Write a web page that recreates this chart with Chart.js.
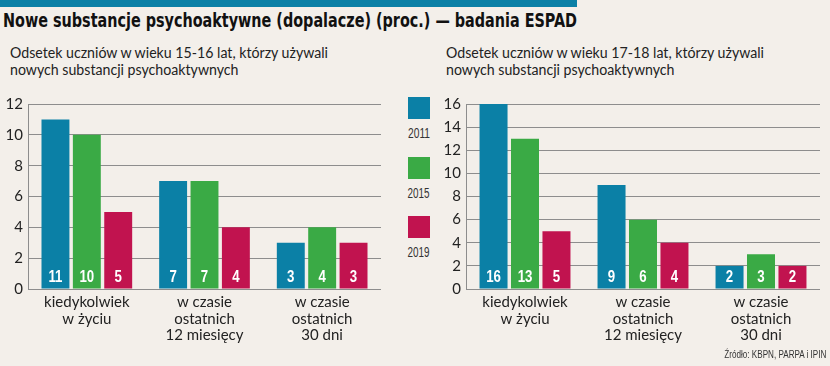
<!DOCTYPE html>
<html lang="pl">
<head>
<meta charset="utf-8">
<script src="https://cdn.jsdelivr.net/npm/chart.js@4"></script>
<style>
  body { margin: 0; width: 830px; height: 366px; background: #f3efea; position: relative; overflow: hidden; font-family: Lato, sans-serif; color: #222; }
  .stripe { position: absolute; left: 0; top: 0; width: 577px; height: 7px; background: #0b80a6; }
  .title { position: absolute; left: 3px; top: 10px; font: bold 20px/20px "DejaVu Sans Condensed", sans-serif; color: #111; white-space: nowrap; display: inline-block; transform-origin: left top; }
  .sub { position: absolute; top: 44px; font-size: 15.5px; line-height: 17px; color: #222; display: inline-block; white-space: nowrap; transform-origin: left top; }
  canvas { position: absolute; }
  .sq { position: absolute; left: 408px; width: 22px; height: 22px; }
  .yr { position: absolute; left: 400px; width: 38px; text-align: center; font: 14px/15px "Liberation Sans", sans-serif; color: #333; }
  .yr span { display: inline-block; transform-origin: center top; }
  .src { position: absolute; right: 4px; top: 349px; font: 11px/11px "Liberation Sans", sans-serif; color: #333; white-space: nowrap; display: inline-block; transform-origin: right top; }
</style>
</head>
<body>
<div class="stripe"></div>
<div class="title" data-w="574">Nowe substancje psychoaktywne (dopalacze) (proc.) — badania ESPAD</div>
<div class="sub" style="left:10px" data-w="318">Odsetek uczniów w wieku 15-16 lat, którzy używali<br>nowych substancji psychoaktywnych</div>
<div class="sub" style="left:446px" data-w="318">Odsetek uczniów w wieku 17-18 lat, którzy używali<br>nowych substancji psychoaktywnych</div>
<canvas id="chartYoung" width="395" height="272" style="left:0;top:90px"></canvas>
<canvas id="chartOld" width="392" height="272" style="left:438px;top:90px"></canvas>
<div id="legend"></div>
<div class="src" data-w="102">Źródło: KBPN, PARPA i IPIN</div>
<script>
// dane
const categories = [
  ["kiedykolwiek", "w życiu"],
  ["w czasie", "ostatnich", "12 miesięcy"],
  ["w czasie", "ostatnich", "30 dni"]
];
const years = ["2011", "2015", "2019"];
const colors = ["#0b80a6", "#3aaa45", "#c1134f"];

// 15-16 lat
const young2011 = [11, 7, 3];
const young2015 = [10, 7, 4];
const young2019 = [5, 4, 3];

// 17-18 lat
const old2011 = [16, 9, 2];
const old2015 = [13, 6, 3];
const old2019 = [5, 4, 2];

const youngMax = 12;
const oldMax = 16;
const tickStep = 2;

const gridColor = "#8d8d8d";

// legenda
const legend = document.getElementById("legend");
years.forEach((y, i) => {
  const top = 97 + i * 59.5;
  const sq = document.createElement("div");
  sq.className = "sq";
  sq.style.top = top + "px";
  sq.style.background = colors[i];
  legend.appendChild(sq);
  const lab = document.createElement("div");
  lab.className = "yr";
  lab.style.top = (top + 29) + "px";
  lab.innerHTML = '<span data-w="22">' + y + "</span>";
  legend.appendChild(lab);
});

// wartosci na dole slupkow (waska, pogrubiona)
const valueLabels = {
  id: "valueLabels",
  afterDatasetsDraw(chart) {
    const ctx = chart.ctx;
    chart.data.datasets.forEach((ds, i) => {
      chart.getDatasetMeta(i).data.forEach((bar, j) => {
        ctx.save();
        ctx.fillStyle = "#fff";
        ctx.font = 'bold 17px "Liberation Sans", sans-serif';
        ctx.textAlign = "center";
        ctx.textBaseline = "middle";
        ctx.translate(bar.x, chart.chartArea.bottom - 12);
        ctx.scale(0.78, 1);
        ctx.fillText(ds.data[j], 0, 0);
        ctx.restore();
      });
    });
  }
};

function makeChart(id, series, max, padRight) {
  return new Chart(document.getElementById(id), {
    type: "bar",
    data: {
      labels: categories,
      datasets: series.map((s, i) => ({
        label: years[i],
        data: s,
        backgroundColor: colors[i],
        categoryPercentage: 0.8,
        barPercentage: 0.89
      }))
    },
    options: {
      responsive: false,
      animation: false,
      layout: { autoPadding: false, padding: { top: 11, right: padRight, bottom: 0, left: 0 } },
      plugins: { legend: { display: false }, tooltip: { enabled: false } },
      scales: {
        x: {
          grid: { display: false },
          border: { display: false },
          ticks: { color: "#222", padding: -3, maxRotation: 0, autoSkip: false, font: { family: "Lato", size: 15, lineHeight: 1.1 } },
          afterFit: (scale) => { scale.height = 73; }
        },
        y: {
          min: 0,
          max: max,
          grid: { color: gridColor, drawTicks: false, lineWidth: 1 },
          border: { display: true, color: gridColor },
          ticks: { stepSize: tickStep, color: "#222", padding: 5, font: { family: "Lato", size: 15 } },
          afterFit: (scale) => { scale.width = 28; }
        }
      }
    },
    plugins: [valueLabels]
  });
}

document.fonts.ready.then(() => {
  document.querySelectorAll("[data-w]").forEach((el) => {
    const w = el.getBoundingClientRect().width;
    el.style.transform = "scaleX(" + (el.dataset.w / w) + ")";
  });
  makeChart("chartYoung", [young2011, young2015, young2019], youngMax, 14);
  makeChart("chartOld", [old2011, old2015, old2019], oldMax, 10);
});
</script>
</body>
</html>
